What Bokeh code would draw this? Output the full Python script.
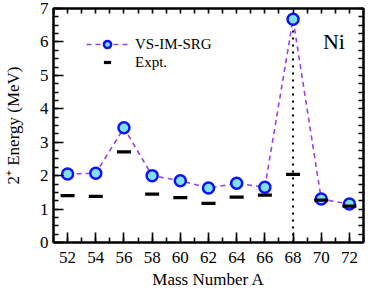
import numpy as np
from bokeh.plotting import figure
from bokeh.models import (LinearAxis, SingleIntervalTicker, FixedTicker, Range1d, Legend,
                          LegendItem, Label, ColumnDataSource)
from bokeh.embed import file_html
from bokeh.resources import INLINE

# ---- data ----
mass_number = [52, 54, 56, 58, 60, 62, 64, 66, 68, 70, 72]
vs_imsrg = [2.05, 2.07, 3.43, 2.00, 1.85, 1.63, 1.77, 1.65, 6.68, 1.30, 1.15]
expt = [1.40, 1.38, 2.71, 1.45, 1.34, 1.17, 1.36, 1.42, 2.04, 1.27, 1.09]
highlight_a = 68
element = "Ni"
x_label = "Mass Number A"
y_label = "2\u207a Energy (MeV)"

FONT = "Liberation Serif"
X0, X1 = 51, 73
Y0, Y1 = 0, 7

src = ColumnDataSource(dict(a=mass_number, th=vs_imsrg, ex=expt))
hi_idx = mass_number.index(highlight_a)
hi_src = ColumnDataSource(dict(x=[highlight_a], y0=[0], y1=[vs_imsrg[hi_idx]]))

p = figure(width=366, height=292, output_backend="svg", toolbar_location=None,
           x_range=Range1d(X0, X1), y_range=Range1d(Y0, Y1),
           min_border_left=48, min_border_right=3, min_border_top=8, min_border_bottom=50,
           x_axis_location=None, y_axis_location=None)
p.xgrid.visible = False
p.ygrid.visible = False
p.outline_line_color = "black"
p.outline_line_width = 2
p.background_fill_color = "white"
p.border_fill_color = "white"


def style(ax):
    ax.axis_line_width = 2
    ax.major_tick_line_width = 1.6
    ax.minor_tick_line_width = 1.6
    ax.major_tick_out = 0
    ax.minor_tick_out = 0
    ax.major_tick_in = 10
    ax.minor_tick_in = 5
    ax.major_label_text_font = FONT
    ax.major_label_text_font_size = "17px"
    ax.major_label_text_color = "black"
    ax.axis_label_text_font = FONT
    ax.axis_label_text_font_size = "17px"
    ax.axis_label_text_font_style = "normal"
    ax.axis_label_text_color = "black"


bottom = LinearAxis(ticker=SingleIntervalTicker(interval=2, num_minor_ticks=2),
                    axis_label=x_label)
style(bottom)
bottom.major_label_standoff = 9
bottom.axis_label_standoff = 4
p.add_layout(bottom, "below")

left = LinearAxis(ticker=SingleIntervalTicker(interval=1, num_minor_ticks=4),
                  axis_label=y_label)
style(left)
left.major_label_standoff = 5
left.axis_label_standoff = 14
p.add_layout(left, "left")

# top / right: only small inward ticks, no labels
top = LinearAxis(ticker=FixedTicker(ticks=[], minor_ticks=list(range(X0, X1 + 1))))
style(top)
p.add_layout(top, "above")

right = LinearAxis(ticker=FixedTicker(ticks=[], minor_ticks=list(np.arange(Y0, Y1 + 0.001, 0.25))))
style(right)
p.add_layout(right, "right")

# vertical dotted marker at A=68
p.segment(x0="x", y0="y0", x1="x", y1="y1", source=hi_src,
          line_color="black", line_width=2, line_dash="2 5")

line_r = p.line("a", "th", source=src, line_color="#a040e0", line_width=1.6,
                line_dash="5 4")
circ_r = p.scatter("a", "th", source=src, marker="circle", size=11,
                   fill_color="#7fe3e6", line_color="#1010ff", line_width=2.5)
ex_r = p.scatter("a", "ex", source=src, marker="dash", size=14,
                 line_color="black", line_width=3.2)

legend = Legend(items=[LegendItem(label="VS-IM-SRG", renderers=[line_r, circ_r]),
                       LegendItem(label="Expt.", renderers=[ex_r])],
                location=(33, 171))
legend.border_line_color = None
legend.background_fill_alpha = 0
legend.padding = 0
legend.margin = 0
legend.spacing = 0
legend.glyph_width = 42
legend.glyph_height = 18
legend.label_height = 18
legend.label_standoff = 7
legend.label_text_font = FONT
legend.label_text_font_size = "15px"
legend.label_text_color = "black"
p.add_layout(legend, "center")

p.add_layout(Label(x=70.9, y=6.0, text=element, text_font=FONT, text_font_size="22px",
                   text_color="black", text_align="center", text_baseline="middle"))

open("out.html", "w").write(file_html(p, INLINE))
